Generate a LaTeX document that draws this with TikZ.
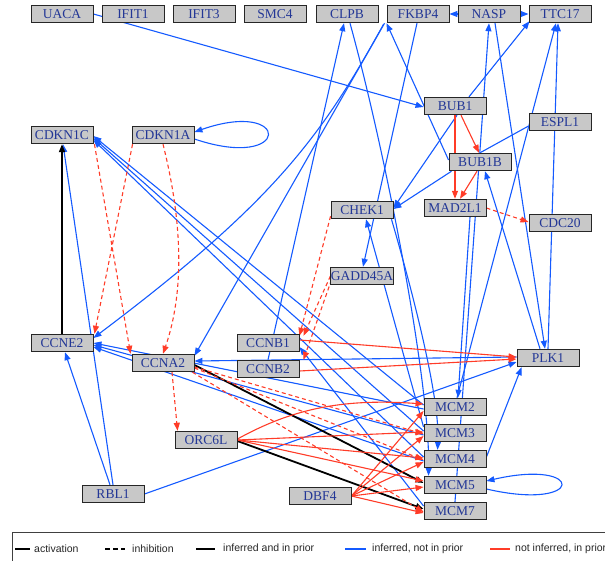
\documentclass[tikz,border=0pt]{standalone}
\usepackage{fontspec}
\setmainfont{Liberation Serif}
\newfontfamily\legendfont{Liberation Sans}
\usetikzlibrary{arrows.meta,calc}
\definecolor{eblue}{RGB}{20,90,255}
\definecolor{ered}{RGB}{255,60,40}
\definecolor{gtext}{RGB}{35,55,150}
\definecolor{gfill}{RGB}{200,200,200}
\pgfdeclarelayer{edges}
\pgfsetlayers{edges,main}
\begin{document}
\begin{tikzpicture}[x=1pt,y=-1pt,
  gene/.style={draw=black!85, line width=0.9pt, fill=gfill, text=gtext,
    minimum width=62pt, minimum height=17.5pt, inner sep=0pt,
    font=\fontsize{13.5}{14}\selectfont},
  tip/.style={-{Triangle[length=8pt,width=6pt]}},
  inf/.style={eblue, line width=1.1pt, tip},
  pri/.style={ered, line width=1.1pt, tip},
  both/.style={black, line width=1.8pt, tip},
  inh/.style={dash pattern=on 4pt off 3pt},
  legtext/.style={anchor=west, inner sep=0pt, text=black!85,
    font=\legendfont\fontsize{10.5}{12}\selectfont},
]
\useasboundingbox (0,0) rectangle (605,560);

% genes
\node[gene] (UACA)    at (62,14)  {UACA};
\node[gene] (IFIT1)   at (133,14) {IFIT1};
\node[gene] (IFIT3)   at (204,14) {IFIT3};
\node[gene] (SMC4)    at (275,14) {SMC4};
\node[gene] (CLPB)    at (347,14) {CLPB};
\node[gene] (FKBP4)   at (418,14) {FKBP4};
\node[gene] (NASP)    at (489,14) {NASP};
\node[gene] (TTC17)   at (560,14) {TTC17};
\node[gene] (BUB1)    at (455,106) {BUB1};
\node[gene] (ESPL1)   at (560,122) {ESPL1};
\node[gene] (BUB1B)   at (480,162) {BUB1B};
\node[gene] (CDKN1C)  at (62,135) {CDKN1C};
\node[gene] (CDKN1A)  at (163,135) {CDKN1A};
\node[gene] (CHEK1)   at (362,210) {CHEK1};
\node[gene] (MAD2L1)  at (455,208) {MAD2L1};
\node[gene] (CDC20)   at (560,223) {CDC20};
\node[gene] (GADD45A) at (362,276) {GADD45A};
\node[gene] (CCNE2)   at (62,343) {CCNE2};
\node[gene] (CCNB1)   at (268,343) {CCNB1};
\node[gene] (CCNA2)   at (163,363) {CCNA2};
\node[gene] (CCNB2)   at (268,369) {CCNB2};
\node[gene] (PLK1)    at (548,358) {PLK1};
\node[gene] (ORC6L)   at (206,440) {ORC6L};
\node[gene] (MCM2)    at (455,407) {MCM2};
\node[gene] (MCM3)    at (455,433) {MCM3};
\node[gene] (MCM4)    at (455,459) {MCM4};
\node[gene] (MCM5)    at (455,485) {MCM5};
\node[gene] (MCM7)    at (455,511) {MCM7};
\node[gene] (RBL1)    at (113,494) {RBL1};
\node[gene] (DBF4)    at (320,496) {DBF4};

\begin{pgfonlayer}{edges}
% inferred, not in prior
\draw[inf] (UACA.east) -- ($(BUB1.west)+(0,1)$);
\draw[inf] ($(CDKN1A.east)+(0,4)$) .. controls (292,172) and (292,98) .. ($(CDKN1A.east)+(0,-3)$);
\draw[inf] ($(MCM5.east)+(0,4)$) .. controls (586,512) and (586,458) .. ($(MCM5.east)+(0,-4)$);
\draw[inf] (NASP.west) -- (FKBP4.east);
\draw[inf] (NASP.east) -- (TTC17.west);
\draw[inf] ($(BUB1.north)+(14,0)$) -- ($(TTC17.south west)+(1,-2)$);
\draw[inf] (CCNB2.north) -- ($(CLPB.south)+(-3,0)$);
\draw[inf] ($(FKBP4.south west)+(-2,0)$) -- ($(CCNA2.north east)+(0,2)$);
\draw[inf] ($(FKBP4.south west)+(-3,1)$) .. controls (320,140) and (270,205) .. ($(CCNE2.east)+(0,-5)$);
\draw[inf] ($(BUB1B.west)+(0,-2)$) -- (FKBP4.south west);
\draw[inf] ($(FKBP4.south)+(-1,0)$) -- ($(GADD45A.north)+(1,0)$);
\draw[inf] ($(MCM3.west)+(0,-6)$) -- ($(CHEK1.south)+(4,0)$);
\draw[inf] ($(BUB1.south)+(2,0)$) -- ($(CHEK1.east)+(0,-2)$);
\draw[inf] ($(BUB1B.south west)+(3,0)$) -- ($(CHEK1.east)+(0,-1)$);
\draw[eblue, line width=1.1pt] ($(ESPL1.west)+(0,4)$) -- (BUB1B.north);
\draw[inf] ($(MAD2L1.south)+(15,0)$) -- ($(MCM2.north)+(3,0)$);
\draw[inf] (MCM7.north) -- (NASP.south);
\draw[inf] ($(NASP.south)+(6,0)$) -- ($(PLK1.north)+(-3,0)$);
\draw[inf] (PLK1.north) -- ($(TTC17.south)+(-2,0)$);
\draw[inf] ($(PLK1.north)+(-8,0)$) -- ($(BUB1B.south)+(5,0)$);
\draw[inf] ($(MCM2.north)+(2,0)$) -- ($(TTC17.south)+(-4,0)$);
\draw[inf] ($(MCM4.east)+(0,-2)$) -- ($(PLK1.south west)+(5,0)$);
\draw[inf] (RBL1.east) -- ($(PLK1.west)+(0,4)$);
\draw[inf] ($(PLK1.west)+(0,-1)$) -- ($(CCNA2.east)+(0,-2)$);
\draw[inf] (RBL1.north) -- ($(CDKN1C.south)+(1,0)$);
\draw[inf] ($(RBL1.north)+(-3,0)$) -- ($(CCNE2.south)+(3,0)$);
\draw[inf] ($(MCM2.west)+(0,-2)$) -- ($(CDKN1C.east)+(0,1)$);
\draw[inf] ($(MCM3.west)+(0,-2)$) -- ($(CDKN1C.east)+(0,3)$);
\draw[inf] ($(MCM4.west)+(0,-2)$) -- ($(CDKN1C.east)+(0,5)$);
\draw[inf] ($(MCM2.west)+(0,2)$) -- (CCNE2.east);
\draw[inf] ($(MCM3.west)+(0,2)$) -- ($(CCNE2.east)+(0,2)$);
\draw[inf] ($(MCM4.west)+(0,2)$) -- ($(CCNE2.east)+(0,4)$);
\draw[inf] ($(MCM7.west)+(0,-5)$) -- ($(CCNB1.east)+(0,4)$);
\draw[inf] ($(CLPB.south)+(3,0)$) .. controls (385,150) and (430,380) .. ($(MCM5.north west)+(5,0)$);
\draw[inf] ($(CHEK1.south east)+(-2,0)$) .. controls (415,300) and (440,400) .. ($(MCM4.north west)+(14,0)$);

% inferred and in prior
\draw[both] (CCNE2.north) -- (CDKN1C.south);
\draw[both] ($(CCNA2.east)+(0,2)$) -- ($(MCM5.west)+(0,-2)$);
\draw[both] ($(ORC6L.east)+(0,1)$) -- ($(MCM7.west)+(0,-2)$);

% not inferred, in prior
\draw[pri] ($(ORC6L.east)+(0,-1)$) .. controls (290,410) and (340,398) .. ($(MCM2.west)+(0,-3)$);
\draw[pri] (ORC6L.east) -- ($(MCM3.west)+(0,-1)$);
\draw[pri] (ORC6L.east) -- ($(MCM4.west)+(0,-1)$);
\draw[pri] (ORC6L.east) -- ($(MCM5.west)+(0,-4)$);
\draw[pri] (DBF4.east) -- ($(MCM2.west)+(0,4)$);
\draw[pri] (DBF4.east) -- ($(MCM3.west)+(0,3)$);
\draw[pri] (DBF4.east) -- ($(MCM4.west)+(0,3)$);
\draw[pri] (DBF4.east) -- ($(MCM5.west)+(0,2)$);
\draw[pri] (DBF4.east) -- ($(MCM7.west)+(0,2)$);
\draw[pri] ($(BUB1.south)+(6,0)$) -- ($(BUB1B.north)+(-1,0)$);
\draw[pri] (BUB1.south) -- (MAD2L1.north);
\draw[pri] ($(BUB1B.south)+(-3,0)$) -- ($(MAD2L1.north)+(5,0)$);
\draw[pri] ($(CCNB1.east)+(0,-3)$) -- ($(PLK1.west)+(0,-1)$);
\draw[pri] ($(CCNB2.east)+(0,2)$) -- ($(PLK1.west)+(0,1)$);

% dashed
\draw[pri,inh] (MAD2L1.east) -- ($(CDC20.west)+(0,-1)$);
\draw[pri,inh] ($(CDKN1C.south east)+(1,0)$) -- ($(CCNA2.north west)+(-1,0)$);
\draw[pri,inh] ($(CDKN1A.south west)+(1,0)$) -- ($(CCNE2.north east)+(1,0)$);
\draw[pri,inh] (CDKN1A.south) .. controls (182,220) and (185,290) .. (CCNA2.north);
\draw[pri,inh] ($(CCNA2.south)+(9,0)$) -- ($(ORC6L.north west)+(3,0)$);
\draw[pri,inh] ($(CHEK1.south west)+(0,-3)$) -- ($(CCNB1.north east)+(0,2)$);
\draw[pri,inh] (GADD45A.west) -- ($(CCNB1.north east)+(4,2)$);
\draw[pri,inh] ($(GADD45A.west)+(1,4)$) -- ($(CCNB2.north east)+(4,0)$);
\draw[pri,inh] ($(CCNA2.east)+(0,4)$) -- ($(MCM3.west)+(0,1)$);
\draw[pri,inh] ($(CCNA2.east)+(0,5)$) -- ($(MCM4.west)+(0,1)$);
\draw[pri,inh] ($(CCNA2.south east)+(-2,0)$) -- ($(MCM7.west)+(0,1)$);
\end{pgfonlayer}

% legend
\draw[black!75, line width=0.7pt] (12,532) rectangle (650,600);
\coordinate (la1) at (15,549);  \coordinate (la2) at (30,549);
\coordinate (lb1) at (105,549); \coordinate (lb2) at (125,549);
\coordinate (lc1) at (196,549); \coordinate (lc2) at (215,549);
\coordinate (ld1) at (345,549); \coordinate (ld2) at (366,549);
\coordinate (le1) at (490,549); \coordinate (le2) at (510,549);
\draw[black, line width=1.6pt] (la1) -- (la2);
\draw[black, line width=1.6pt, dash pattern=on 5pt off 3pt] (lb1) -- (lb2);
\draw[black, line width=2pt] (lc1) -- (lc2);
\draw[eblue, line width=2pt] (ld1) -- (ld2);
\draw[ered, line width=2pt] (le1) -- (le2);
\node[legtext] (lta) at (34,549)  {activation};
\node[legtext] (ltb) at (132,549) {inhibition};
\node[legtext] (ltc) at (223,549) {inferred and in prior};
\node[legtext] (ltd) at (372,549) {inferred, not in prior};
\node[legtext] (lte) at (515,549) {not inferred, in prior};
\end{tikzpicture}
\end{document}
